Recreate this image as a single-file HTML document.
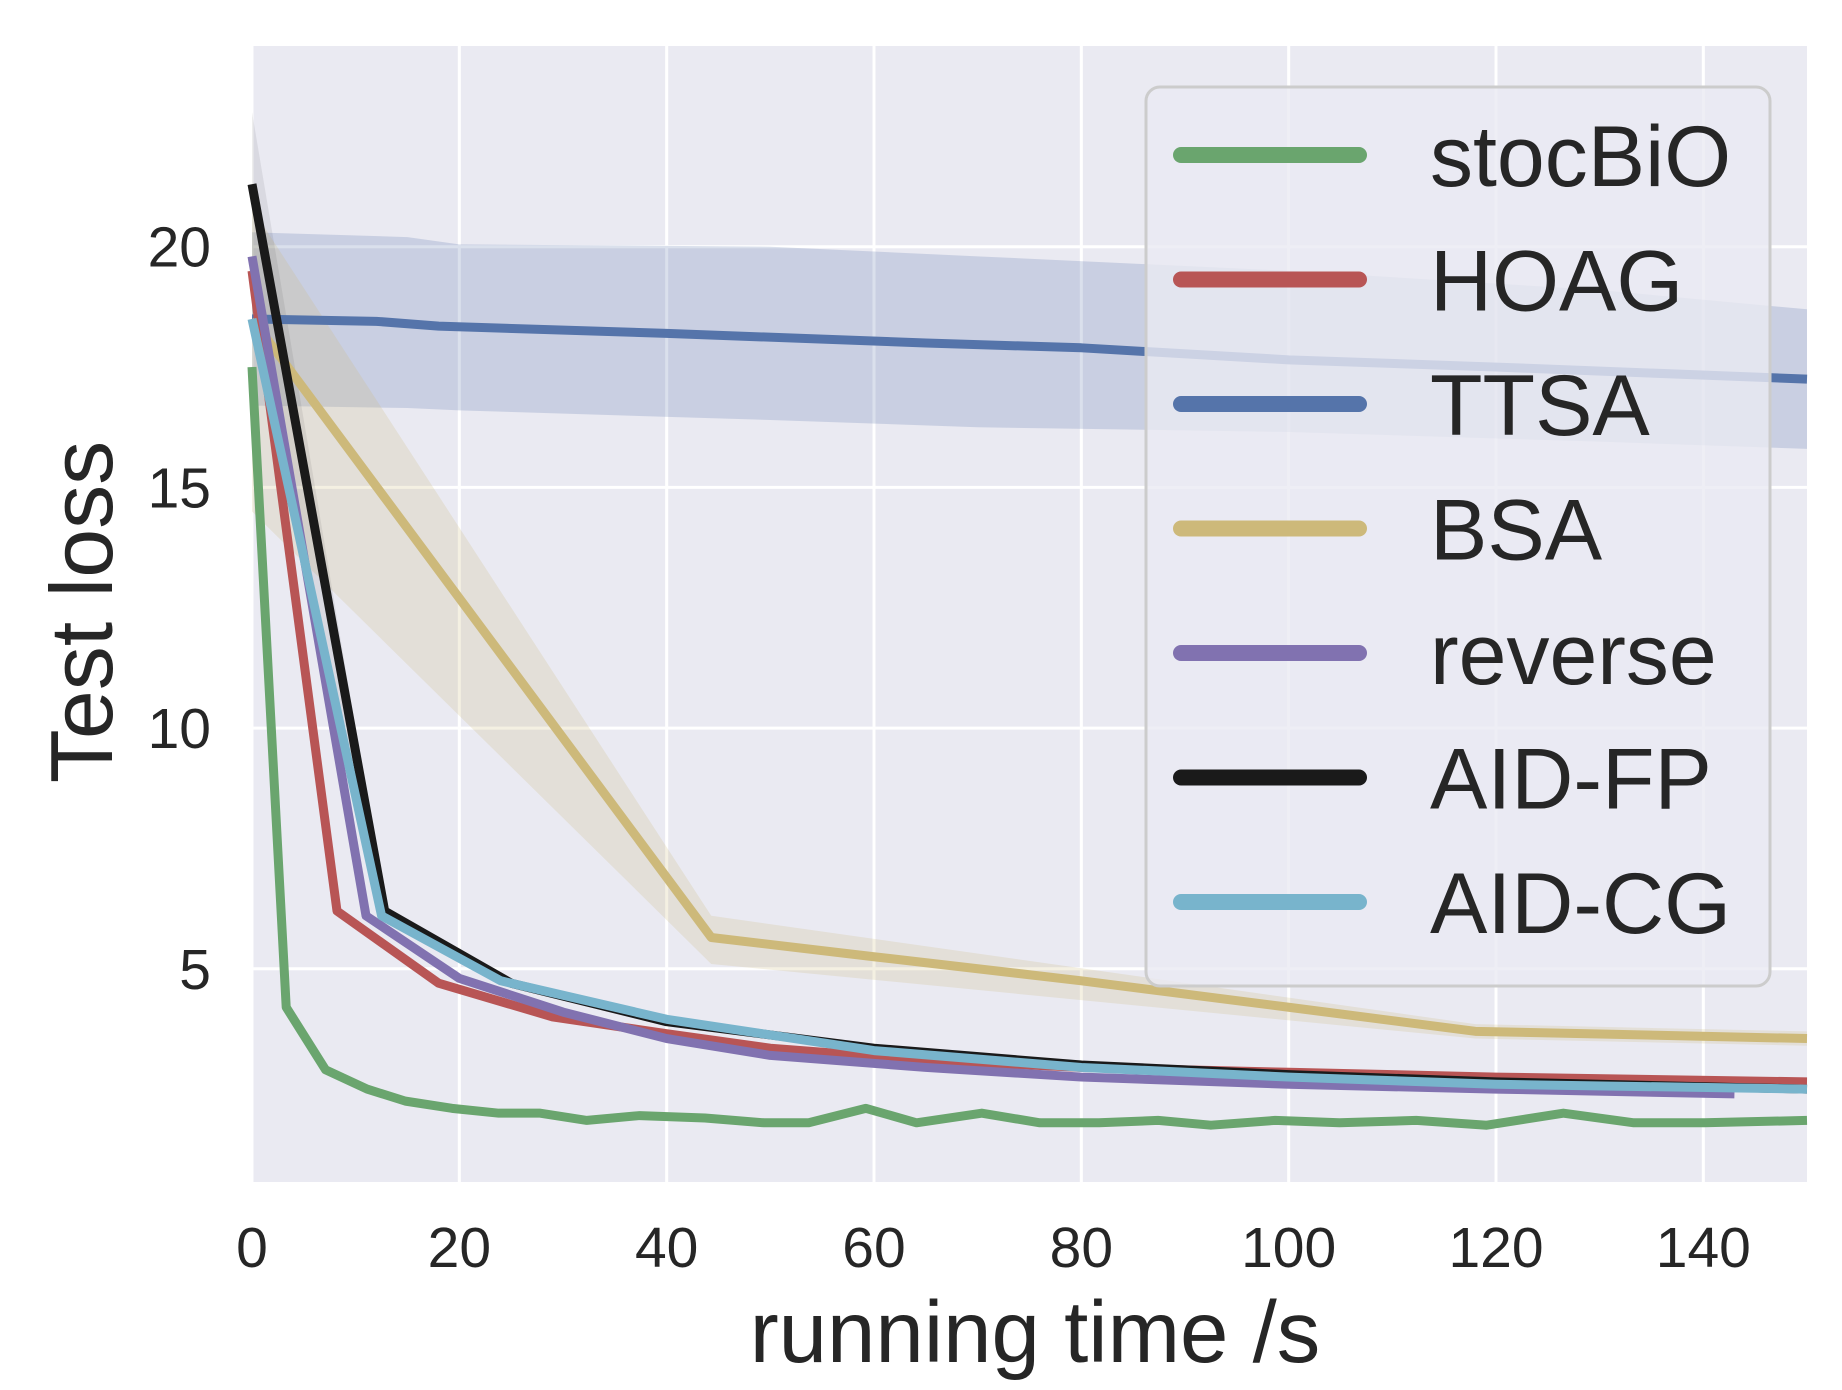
<!DOCTYPE html>
<html><head><meta charset="utf-8"><style>
html,body{margin:0;padding:0;background:#fff;}
svg{display:block;font-family:"Liberation Sans",Arial,sans-serif;}
</style></head><body>
<svg id="chart" width="1842" height="1390" viewBox="0 0 1842 1390" xmlns="http://www.w3.org/2000/svg">
<rect x="252" y="46" width="1555" height="1136" fill="#eaeaf2"/>
<g id="grid"></g>
<g id="bands"></g>
<g id="lines"></g>
<g id="ticks"></g>
<text x="1035" y="1362" font-size="87" fill="#262626" text-anchor="middle">running time /s</text>
<text transform="translate(112,612) rotate(-90)" font-size="88" fill="#262626" text-anchor="middle">Test loss</text>
<g id="legend"></g>
</svg>
<script>
const xTicks=[0,20,40,60,80,100,120,140];
const yTicks=[5,10,15,20];
const seriesNames=["stocBiO","HOAG","TTSA","BSA","reverse","AID-FP","AID-CG"];
const seriesColors=["#6aa56e","#b85555","#5574aa","#cdb97a","#8172b0","#1a1a1a","#78b4cc"];
const stocX=[0,3.3,7.1,11.1,14.8,19.3,23.8,27.8,32.3,37.4,43.7,49.4,53.7,59.2,64.1,70.4,76,81.7,87.4,92.5,98.7,104.9,112.3,119.1,126.5,133.3,140.1,150];
const stocY=[17.5,4.2,2.9,2.5,2.25,2.1,2.0,2.0,1.85,1.95,1.9,1.8,1.8,2.1,1.8,2.0,1.8,1.8,1.85,1.75,1.85,1.8,1.85,1.75,2.0,1.8,1.8,1.85];
const hoagX=[0,8.2,18,29,40,50,65,80,100,120,150];
const hoagY=[19.5,6.2,4.7,4.0,3.65,3.35,3.1,2.95,2.85,2.75,2.65];
const ttsaX=[0,12,18,40,65,80,100,120,150];
const ttsaY=[18.5,18.45,18.35,18.2,18.0,17.9,17.65,17.5,17.25];
const ttsaBandX=[0,15,20,50,70,100,130,150];
const ttsaUpper=[20.3,20.2,20.05,20,19.8,19.5,19.1,18.7];
const ttsaLower=[16.7,16.65,16.6,16.4,16.25,16.15,15.95,15.8];
const bsaX=[0,44.3,60,80,100,118,150];
const bsaY=[18.5,5.65,5.25,4.75,4.2,3.7,3.55];
const bsaBandX=[0,44.3,118,150];
const bsaUpper=[20.8,6.1,3.85,3.7];
const bsaLower=[14.5,5.1,3.55,3.4];
const revX=[0,11,20,30,40,50,65,80,100,120,143];
const revY=[19.8,6.1,4.8,4.1,3.55,3.2,2.95,2.75,2.6,2.5,2.4];
const fpX=[0,12.8,25,40,60,80,100,120,150];
const fpY=[21.3,6.2,4.7,3.9,3.35,3.0,2.8,2.65,2.5];
const fpBandX=[0,12.8];
const fpUpper=[22.8,6.4];
const fpLower=[18.5,6.0];
const cgX=[0,12.5,24,40,60,80,100,120,150];
const cgY=[18.5,6.1,4.75,3.95,3.3,2.95,2.75,2.6,2.5];

const NS="http://www.w3.org/2000/svg";
const X0=252,X1=1807,Y0=1182,Y1=46,XMIN=0,XMAX=150,YMIN=0.57,YMAX=24.17;
function sx(v){return X0+(v-XMIN)/(XMAX-XMIN)*(X1-X0);}
function sy(v){return Y0-(v-YMIN)/(YMAX-YMIN)*(Y0-Y1);}
function mk(tag,attrs,parent){const e=document.createElementNS(NS,tag);for(const k in attrs)e.setAttribute(k,attrs[k]);parent.appendChild(e);return e;}

const grid=document.getElementById('grid'),ticks=document.getElementById('ticks');
xTicks.forEach(t=>{
  const l=mk('line',{x1:sx(t),x2:sx(t),y1:Y1,y2:Y0,stroke:'#fff','stroke-width':3},grid);
  
  
  const tx=mk('text',{x:sx(t),y:1267,'font-size':57,fill:'#262626','text-anchor':'middle'},ticks);
  tx.textContent=t;
  
  
});
yTicks.forEach(t=>{
  const l=mk('line',{x1:X0,x2:X1,y1:sy(t),y2:sy(t),stroke:'#fff','stroke-width':3},grid);
  
  
  const tx=mk('text',{x:211,y:sy(t)+20,'font-size':57,fill:'#262626','text-anchor':'end'},ticks);
  tx.textContent=t;
  
  
});
function pts(xs,ys){return xs.map((x,i)=>sx(x)+','+sy(ys[i])).join(' ');}
function band(xs,up,lo,color,name,op){
  const p=xs.map((x,i)=>sx(x)+','+sy(up[i])).concat(xs.slice().reverse().map((x,i)=>sx(x)+','+sy(lo[lo.length-1-i])));
  const e=mk('polygon',{points:p.join(' '),fill:color,'fill-opacity':op},document.getElementById('bands'));
  
  
}
band(ttsaBandX,ttsaUpper,ttsaLower,'#5574aa','ttsa-band',0.22);
band(bsaBandX,bsaUpper,bsaLower,'#cdb97a','bsa-band',0.22);
band(fpBandX,fpUpper,fpLower,'#1a1a1a','aid-fp-band',0.08);
const lines=document.getElementById('lines');
const data=[[ttsaX,ttsaY,2],[bsaX,bsaY,3],[stocX,stocY,0],[hoagX,hoagY,1],[revX,revY,4],[fpX,fpY,5],[cgX,cgY,6]];
data.forEach(d=>{
  const e=mk('polyline',{points:pts(d[0],d[1]),fill:'none',stroke:seriesColors[d[2]],'stroke-width':9,'stroke-linejoin':'round'},lines);
  
  
});
const lg=document.getElementById('legend');
const box=mk('rect',{x:1146,y:87,width:624,height:899,rx:14,fill:'#eaeaf2','fill-opacity':0.8,stroke:'#cccccc','stroke-width':3},lg);


seriesNames.forEach((n,i)=>{
  const cy=155+i*124.5;
  const l=mk('line',{x1:1181,x2:1359,y1:cy,y2:cy,stroke:seriesColors[i],'stroke-width':16,'stroke-linecap':'round'},lg);
  
  
  const t=mk('text',{x:1430,y:cy+31,'font-size':86,fill:'#262626'},lg);
  t.textContent=n;
  
  
});
</script>
</body></html>
